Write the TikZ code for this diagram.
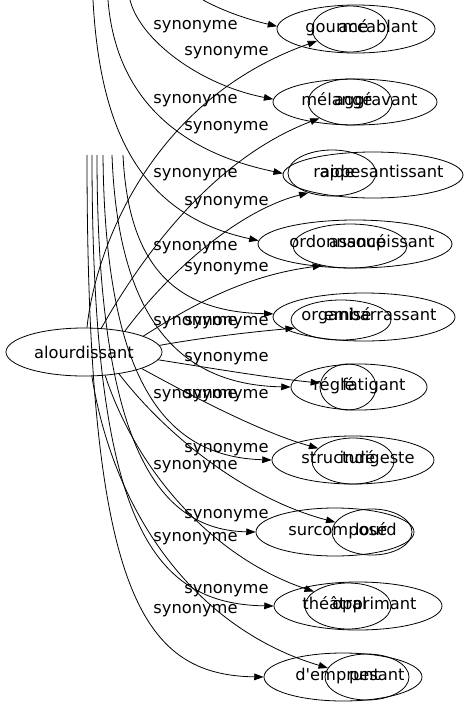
\documentclass[tikz,border=0pt]{standalone}
\usepackage{fontspec}
\newfontfamily\dejavu{DejaVu Sans}
\usetikzlibrary{arrows.meta,shapes.geometric}
\tikzset{
  oval/.style 2 args={ellipse, draw, inner sep=0pt, minimum width=#1*1.5pt, minimum height=#2*1.5pt},
  word/.style={inner sep=0pt, text height=1.55ex, text depth=.45ex},
  edge/.style={-{Triangle[length=7pt,width=5pt]}},
}
\begin{document}
\begin{tikzpicture}[x=0.75pt,y=-0.75pt,line width=0.6pt,font=\dejavu\fontsize{12.2}{14}\selectfont]
  \useasboundingbox (0,0) rectangle (467,707);
  \node[oval={78}{24}] (alourdissant) at (84,352) {alourdissant};
  % wide ovals
  \node[oval={79}{24}] (gourme) at (356,29) {};
  \node[oval={82}{23}] (melange) at (355,102) {};
  \node[oval={90}{23}] (raide) at (373,175) {};
  \node[oval={97}{24}] (ordonnance) at (355,244) {};
  \node[oval={91}{24}] (organise) at (364,317) {};
  \node[oval={68}{23}] (regle) at (359,387) {};
  \node[oval={81}{24}] (structure) at (353,460) {};
  \node[oval={79}{24}] (surcompose) at (335,532) {};
  \node[oval={84}{24}] (theatral) at (358,606) {};
  \node[oval={79}{24}] (demprunt) at (343,677) {};
  % narrow ovals
  \node[oval={38}{23}] (accablant) at (350,29) {};
  \node[oval={42}{23}] (aggravant) at (350,102) {};
  \node[oval={44}{23}] (appesantissant) at (332,173) {};
  \node[oval={57}{22}] (assoupissant) at (350,246) {};
  \node[oval={50}{20}] (embarrassant) at (341,320) {};
  \node[oval={28}{23}] (fatigant) at (348,387) {};
  \node[oval={41}{23}] (indigeste) at (353,461) {};
  \node[oval={40}{23}] (lourd) at (372,532) {};
  \node[oval={43}{23}] (opprimant) at (348,606) {};
  \node[oval={42}{23}] (pesant) at (367,677) {};
  % words
  \node[word,anchor=west] (t-gourme) at (305,29) {gourmé};
  \node[word,anchor=east] (t-accablant) at (418,29) {accablant};
  \node[word,anchor=west] (t-melange) at (301,102) {mélangé};
  \node[word,anchor=east] (t-aggravant) at (418,102) {aggravant};
  \node[word,anchor=west] (t-raide) at (313,174) {raide};
  \node[word,anchor=east] (t-appesantissant) at (444,174) {appesantissant};
  \node[word,anchor=west] (t-ordonnance) at (289,244) {ordonnancé};
  \node[word,anchor=east] (t-assoupissant) at (435,244) {assoupissant};
  \node[word,anchor=west] (t-organise) at (301,317) {organisé};
  \node[word,anchor=east] (t-embarrassant) at (437,317) {embarrassant};
  \node[word,anchor=west] (t-regle) at (313,387) {réglé};
  \node[word,anchor=east] (t-fatigant) at (406,387) {fatigant};
  \node[word,anchor=west] (t-structure) at (301,460) {structuré};
  \node[word,anchor=east] (t-indigeste) at (415,460) {indigeste};
  \node[word,anchor=west] (t-surcompose) at (288,532) {surcomposé};
  \node[word,anchor=east] (t-lourd) at (397,532) {lourd};
  \node[word,anchor=west] (t-theatral) at (302,606) {théâtral};
  \node[word,anchor=east] (t-opprimant) at (417,606) {opprimant};
  \node[word,anchor=west] (t-demprunt) at (295,677) {d'emprunt};
  \node[word,anchor=east] (t-pesant) at (405,677) {pesant};
  % edge labels
  \foreach \y [count=\i] in {26,100,174,247,322,395,466,538,610}
    \node[word,anchor=west] (syn-a\i) at (153,\y) {synonyme};
  \foreach \y [count=\i] in {52,127,202,268,322,358,395,449,515,590}
    \node[word,anchor=west] (syn-b\i) at (184,\y) {synonyme};
  % loose ends
  \coordinate (top1) at (203,0);
  \coordinate (top2) at (130,0);
  \coordinate (top3) at (108,0);
  \coordinate (top4) at (93,0);
  \foreach \x [count=\i from 5] in {123,112,103,97,92,87}
    \coordinate (cut\i) at (\x,155);
  % edges from above
  \draw[edge] (top1) .. controls (225,12) and (250,20) .. (gourme.178);
  \draw[edge] (top2) .. controls (140,40) and (200,85) .. (melange.178);
  \draw[edge] (top3) .. controls (115,90) and (170,150) .. (raide.179);
  \draw[edge] (top4) .. controls (100,130) and (140,215) .. (ordonnance.178);
  \draw[edge] (cut5) .. controls (128,260) and (170,312) .. (organise.178);
  \draw[edge] (cut6) .. controls (118,320) and (180,385) .. (regle.180);
  \draw[edge] (cut7) .. controls (105,390) and (170,457) .. (structure.180);
  \draw[edge] (cut8) .. controls (97,450) and (160,530) .. (surcompose.180);
  \draw[edge] (cut9) .. controls (92,520) and (150,604) .. (theatral.180);
  \draw[edge] (cut10) .. controls (87,590) and (140,675) .. (demprunt.180);
  % edges from alourdissant
  \draw[edge] (alourdissant.83) .. controls (95,250) and (150,100) .. (accablant.200);
  \draw[edge] (alourdissant.54) .. controls (140,260) and (210,160) .. (aggravant.208);
  \draw[edge] (alourdissant.27) .. controls (170,270) and (240,210) .. (appesantissant.220);
  \draw[edge] (alourdissant.15) .. controls (200,300) and (250,275) .. (assoupissant.215);
  \draw[edge] (alourdissant.5) .. controls (200,338) and (250,332) .. (embarrassant.190);
  \draw[edge] (alourdissant.-6) .. controls (210,368) and (270,378) .. (fatigant.172);
  \draw[edge] (alourdissant.-16) .. controls (190,395) and (260,432) .. (indigeste.160);
  \draw[edge] (alourdissant.-32) .. controls (170,440) and (250,500) .. (lourd.165);
  \draw[edge] (alourdissant.-48) .. controls (140,480) and (220,560) .. (opprimant.157);
  \draw[edge] (alourdissant.-72) .. controls (115,520) and (200,630) .. (pesant.167);
\end{tikzpicture}
\end{document}
